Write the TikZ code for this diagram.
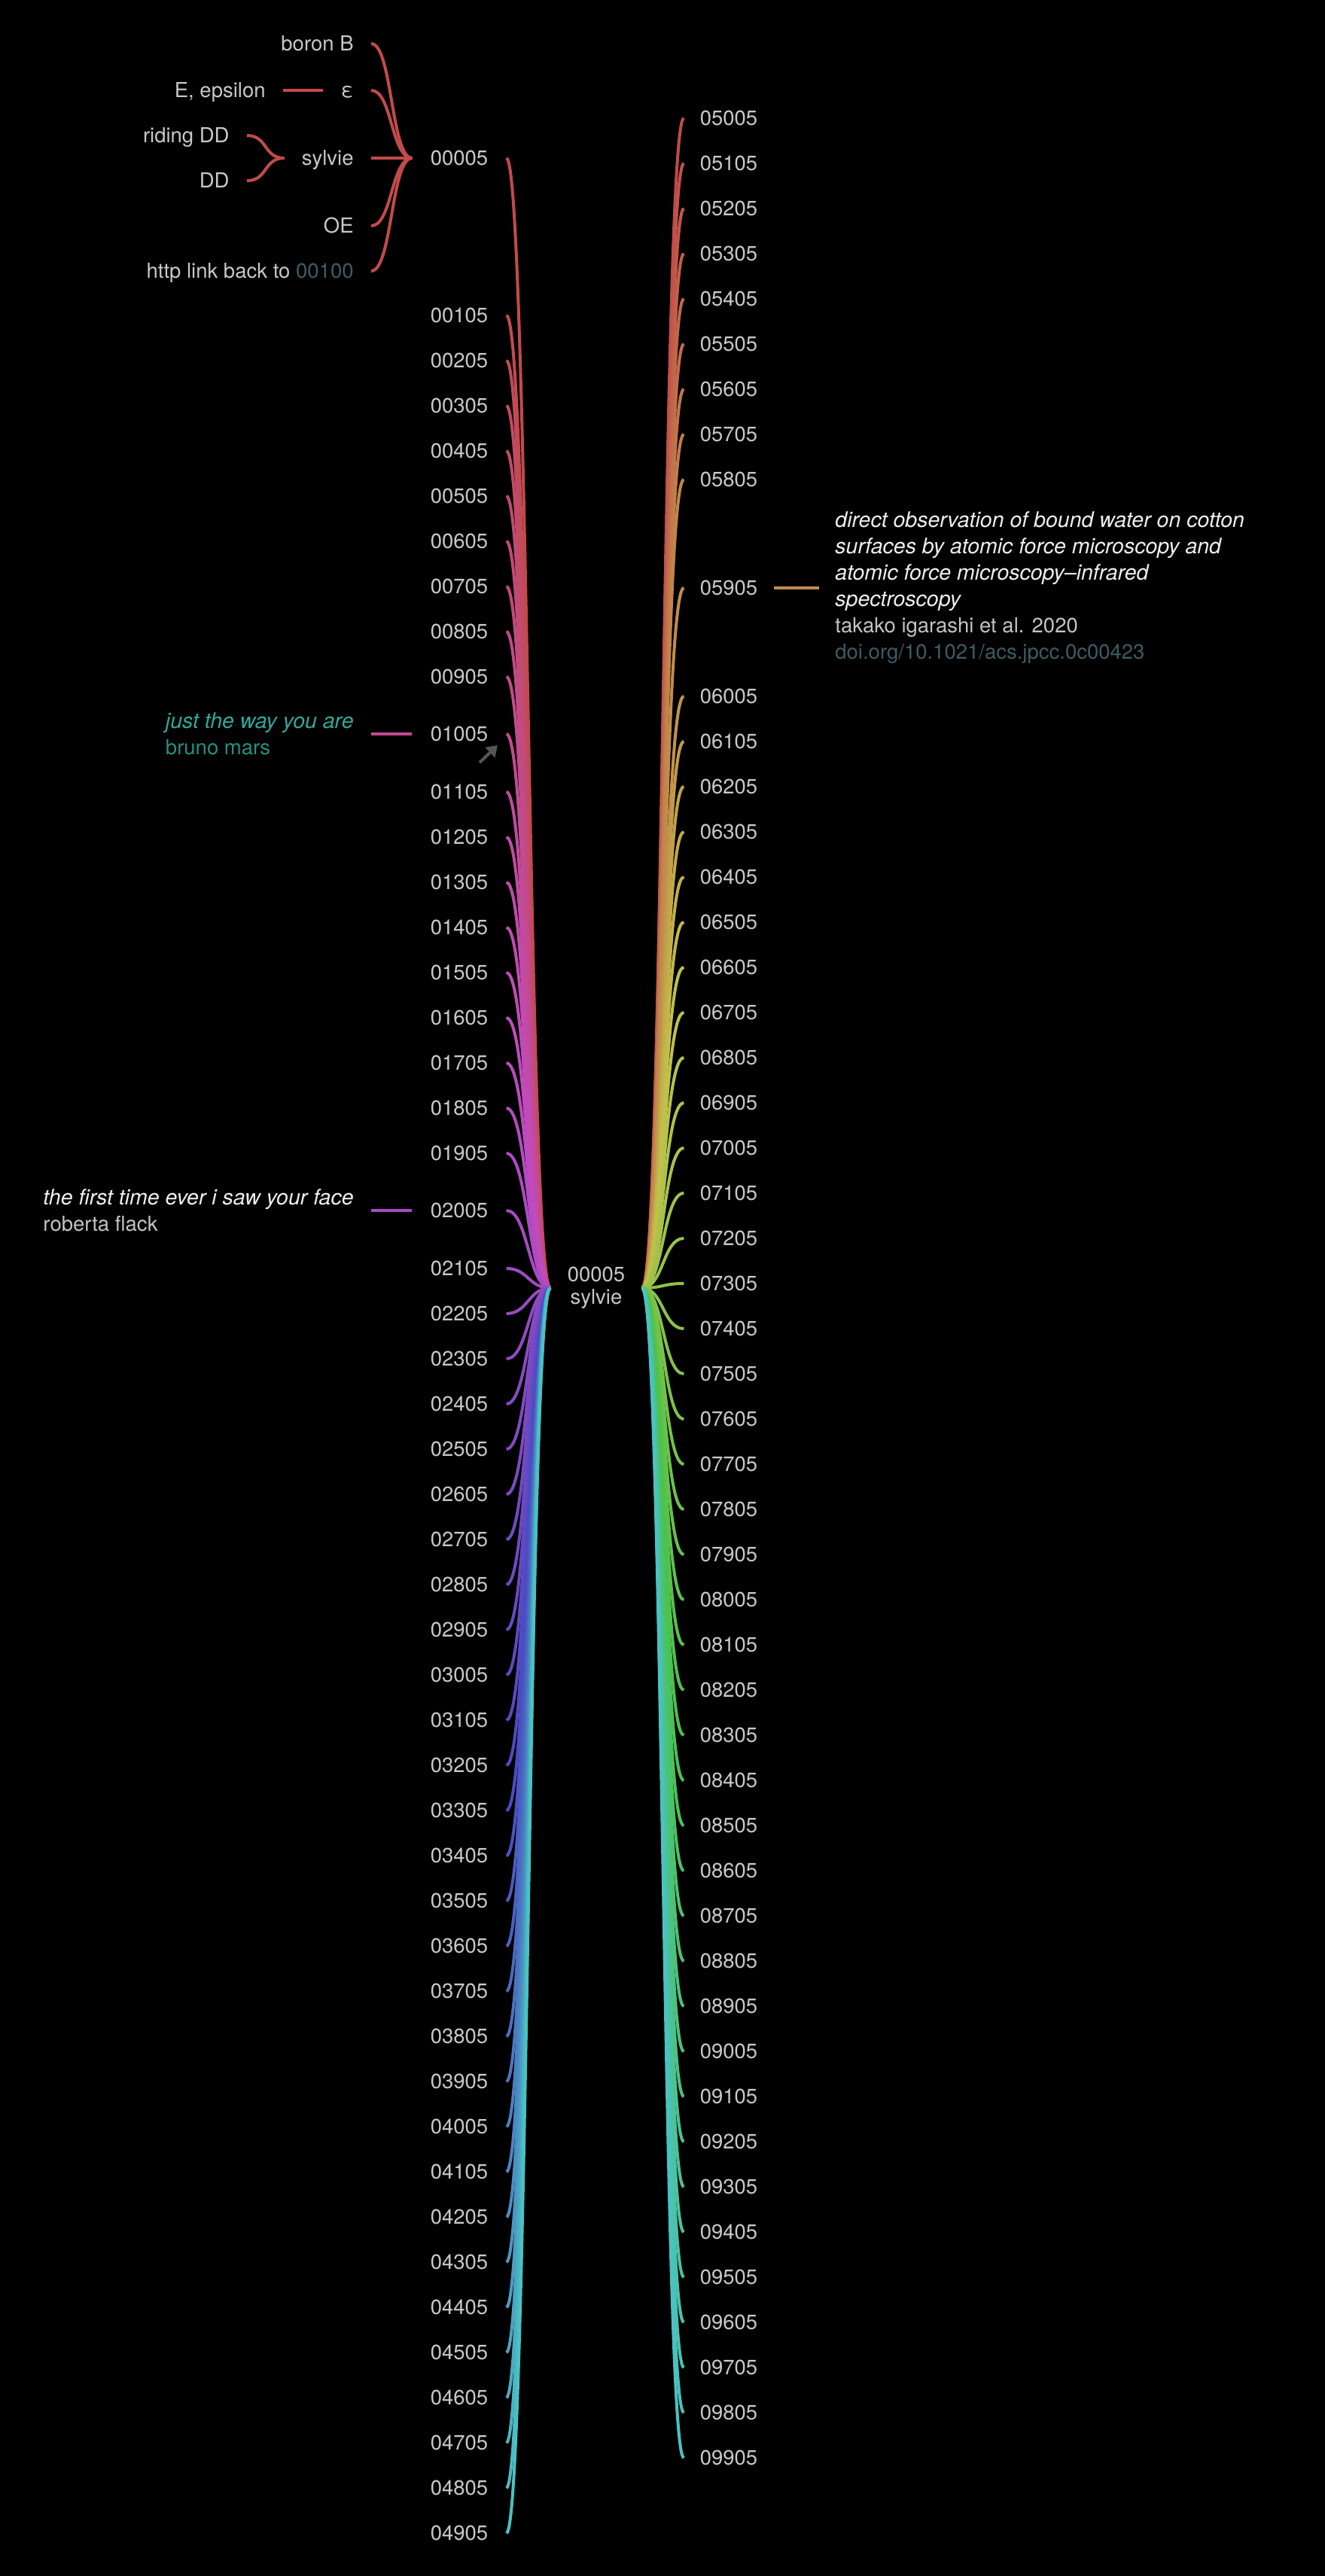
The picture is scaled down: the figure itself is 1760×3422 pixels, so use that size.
\documentclass[tikz,border=0pt]{standalone}
\usepackage{fontspec}
\setmainfont{TeX Gyre Heros}
\usetikzlibrary{arrows.meta}
\definecolor{lbl}{HTML}{C8C8C8}
\definecolor{slate}{HTML}{3E5B62}
\definecolor{tealA}{HTML}{2FA89A}
\definecolor{tealB}{HTML}{23907F}
\definecolor{anno}{HTML}{EEEEEE}
\definecolor{subanno}{HTML}{C4C4C4}
\definecolor{arrowgray}{HTML}{555555}
\definecolor{hsbtmp}{Hsb}{0,0.62,0.76}
\colorlet{redlink}[rgb]{hsbtmp}
\definecolor{hsbtmp}{Hsb}{323.27,0.62,0.76}
\colorlet{cten}[rgb]{hsbtmp}
\definecolor{hsbtmp}{Hsb}{286.53,0.62,0.76}
\colorlet{ctwenty}[rgb]{hsbtmp}
\definecolor{hsbtmp}{Hsb}{33.06,0.62,0.76}
\colorlet{cfiftynine}[rgb]{hsbtmp}
\newcommand{\ttl}[1]{{\fontsize{14.25}{17.5}\selectfont\textit{#1}}}
\tikzset{
  lab/.style={text=lbl, font=\fontsize{13.75}{17}\selectfont, inner ysep=0pt, text height=9.8pt, text depth=0pt},
  leftlab/.style={lab, inner xsep=12pt},
  rightlab/.style={lab, inner xsep=10.5pt},
  clab/.style={lab, inner xsep=11.5pt, anchor=east},
  link/.style={line width=2pt},
  clink/.style={line width=2pt, draw=redlink},
  annot/.style={font=\fontsize{13.75}{17.5}\selectfont, align=left, inner xsep=11.5pt, inner ysep=0pt},
  rootlab/.style={text=lbl, font=\fontsize{13.75}{15}\selectfont, align=center, inner sep=0pt}
}
\begin{document}
\begin{tikzpicture}[x=0.5pt, y=-0.5pt]
\path[use as bounding box, fill=black] (0,0) rectangle (1760,3422);

% hub
\node[rootlab] (root) at (792,1711) {00005\\sylvie};
\coordinate (hubL) at (731,1711);
\coordinate (hubR) at (853,1711);

% left column
\foreach \i/\y in {0/210, 1/419, 2/479, 3/539, 4/599, 5/659, 6/719, 7/779, 8/839, 9/899,
  10/975, 11/1052, 12/1112, 13/1172, 14/1232, 15/1292, 16/1352, 17/1412, 18/1472, 19/1532,
  20/1608, 21/1685, 22/1745, 23/1805, 24/1865, 25/1925, 26/1985, 27/2045, 28/2105, 29/2165,
  30/2225, 31/2285, 32/2345, 33/2405, 34/2465, 35/2525, 36/2585, 37/2645, 38/2705, 39/2765,
  40/2825, 41/2885, 42/2945, 43/3005, 44/3065, 45/3125, 46/3185, 47/3245, 48/3305, 49/3365}{
  \pgfmathsetmacro\hue{mod(360-180*\i/49,360)}
  \definecolor{hsbtmp}{Hsb}{\hue,0.62,0.76}
  \colorlet{lc}[rgb]{hsbtmp}
  \node[leftlab] (L\i) at (610,\y) {\ifnum\i<10 00\i05\else 0\i05\fi};
  \draw[link, lc] (hubL) .. controls +(-29,0) and +(29,0) .. (L\i.east);
}

% right column
\foreach \j/\y in {50/157, 51/217, 52/277, 53/337, 54/397, 55/457, 56/517, 57/577, 58/637, 59/781,
  60/925, 61/985, 62/1045, 63/1105, 64/1165, 65/1225, 66/1285, 67/1345, 68/1405, 69/1465,
  70/1525, 71/1585, 72/1645, 73/1705, 74/1765, 75/1825, 76/1885, 77/1945, 78/2005, 79/2065,
  80/2125, 81/2185, 82/2245, 83/2305, 84/2365, 85/2425, 86/2485, 87/2545, 88/2605, 89/2665,
  90/2725, 91/2785, 92/2845, 93/2905, 94/2965, 95/3025, 96/3085, 97/3145, 98/3205, 99/3265}{
  \pgfmathsetmacro\hue{180*(\j-50)/49}
  \definecolor{hsbtmp}{Hsb}{\hue,0.62,0.76}
  \colorlet{lc}[rgb]{hsbtmp}
  \node[rightlab] (R\j) at (968,\y) {0\j05};
  \draw[link, lc] (hubR) .. controls +(28,0) and +(-28,0) .. (R\j.west);
}

% top cluster of 00005
\node[clab] (boron) at (493,58) {boron B};
\node[clab] (eps) at (493,120) {ε};
\node[clab] (syl) at (493,210) {sylvie};
\node[clab] (oe) at (493,300) {OE};
\node[clab] (http) at (493,360) {http link back to \textcolor{slate}{00100}};
\node[clab] (Eeps) at (376,120) {E, epsilon};
\node[clab] (ridDD) at (328,180) {riding DD};
\node[clab] (DD) at (328,240) {DD};
\foreach \c in {boron, eps, syl, oe, http}{
  \draw[clink] (L0.west) .. controls +(-28,0) and +(28,0) .. (\c.east);
}
\draw[clink] (eps.west) -- (Eeps.east);
\foreach \c in {ridDD, DD}{
  \draw[clink] (syl.west) .. controls +(-28,0) and +(28,0) .. (\c.east);
}

% annotations
\node[annot, anchor=east] (annoA) at (493,975)
  {\textcolor{tealA}{\ttl{just the way you are}}\\\textcolor{tealB}{bruno mars}};
\draw[link, cten] (L10.west) -- (annoA.east);
\coordinate (arT) at (637,1013);
\coordinate (arH) at (661,990);
\draw[arrowgray, line width=2pt, -{Triangle[length=7pt,width=9pt]}] (arT) -- (arH);

\node[annot, anchor=east] (annoB) at (493,1608)
  {\textcolor{anno}{\ttl{the first time ever i saw your face}}\\\textcolor{subanno}{roberta flack}};
\draw[link, ctwenty] (L20.west) -- (annoB.east);

\node[annot, anchor=west, inner xsep=10.5pt] (annoC) at (1088,781)
  {\textcolor{anno}{\ttl{direct observation of bound water on cotton}}\\
   \textcolor{anno}{\ttl{surfaces by atomic force microscopy and}}\\
   \textcolor{anno}{\ttl{atomic force microscopy–infrared}}\\
   \textcolor{anno}{\ttl{spectroscopy}}\\
   \textcolor{subanno}{takako igarashi et al. 2020}\\
   \textcolor{slate}{doi.org/10.1021/acs.jpcc.0c00423}};
\draw[link, cfiftynine] (R59.east) -- (annoC.west);
\end{tikzpicture}
\end{document}
